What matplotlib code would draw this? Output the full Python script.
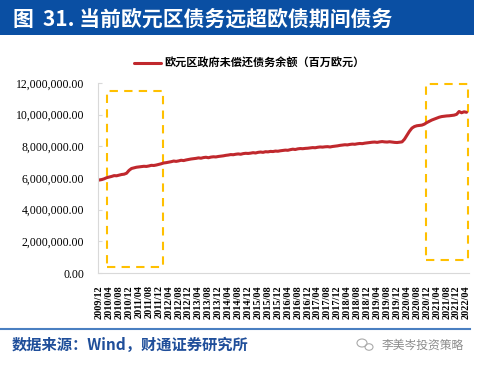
import numpy as np
import matplotlib.pyplot as plt
from matplotlib.patches import Rectangle, Ellipse

plt.rcParams['font.family'] = ['Noto Sans CJK SC', 'DejaVu Sans']

# monthly months from 2009/12 to 2022/04
months = ['2009/12'] + [f'{y}/{m:02d}' for y in range(2010, 2022) for m in range(1, 13)] \
    + ['2022/01', '2022/02', '2022/03', '2022/04']

# outstanding government debt, trillions of euro (x1e6 = 百万欧元)
debt = [5.87,
        5.90, 5.95, 6.02, 6.06, 6.10, 6.15, 6.14, 6.18, 6.22, 6.24, 6.30, 6.48,
        6.60, 6.64, 6.68, 6.70, 6.72, 6.74, 6.73, 6.76, 6.80, 6.79, 6.82, 6.86,
        6.90, 6.95, 6.97, 7.00, 7.03, 7.07, 7.05, 7.08, 7.12, 7.10, 7.14, 7.17,
        7.20, 7.22, 7.24, 7.27, 7.25, 7.29, 7.31, 7.28, 7.32, 7.34, 7.33, 7.36,
        7.38, 7.40, 7.43, 7.45, 7.48, 7.47, 7.50, 7.52, 7.50, 7.54, 7.56, 7.55,
        7.57, 7.60, 7.58, 7.62, 7.64, 7.62, 7.66, 7.65, 7.68, 7.67, 7.70, 7.69,
        7.72, 7.74, 7.76, 7.75, 7.79, 7.82, 7.80, 7.84, 7.86, 7.85, 7.87, 7.88,
        7.90, 7.92, 7.91, 7.94, 7.96, 7.95, 7.97, 7.98, 7.96, 7.99, 8.01, 8.03,
        8.06, 8.08, 8.10, 8.09, 8.12, 8.14, 8.13, 8.16, 8.18, 8.17, 8.20, 8.22,
        8.24, 8.26, 8.27, 8.25, 8.28, 8.30, 8.28, 8.27, 8.29, 8.27, 8.25, 8.24,
        8.26, 8.28, 8.45, 8.70, 8.95, 9.15, 9.25, 9.30, 9.32, 9.34, 9.40, 9.50,
        9.58, 9.66, 9.72, 9.78, 9.84, 9.88, 9.90, 9.92, 9.93, 9.95, 9.97, 10.02,
        10.20, 10.12, 10.18, 10.15]

yticks = [0, 2e6, 4e6, 6e6, 8e6, 10e6, 12e6]
# highlighted periods (month index range, value range)
box1 = (3.1, 25.7, 0.38e6, 11.5e6)
box2 = (131.7, 148.7, 0.82e6, 11.94e6)

W, H = 480, 367
fig = plt.figure(figsize=(W / 100, H / 100), dpi=100)

# title bar
fig.patches.append(Rectangle((0, 1 - 35 / H), 474 / W, 35 / H, transform=fig.transFigure,
                             facecolor='#0A4FA3', edgecolor='none'))
fig.text(12 / W, 1 - 19 / H, '图', color='white',
         fontsize=15, fontweight='bold', va='center', ha='left')
fig.text(43 / W, 1 - 19 / H, '31. 当前欧元区债务远超欧债期间债务', color='white',
         fontsize=15, fontweight='bold', va='center', ha='left')

ax = fig.add_axes([98 / W, (H - 273) / H, (469 - 98) / W, 190 / H])
x = np.arange(len(months))
values = np.array(debt) * 1e6
ax.plot(x, values, color='#C0282D', lw=2.2, solid_capstyle='round',
        label='欧元区政府未偿还债务余额（百万欧元）')

ax.set_xlim(-0.5, 149)
ax.set_ylim(0, 12e6)
ax.set_yticks(yticks)
ax.set_yticklabels([f'{v:,.2f}' for v in yticks], fontfamily='Liberation Serif', fontsize=8.5)
ax.set_xticks(x[::4])
ax.set_xticklabels(months[::4], rotation=90, fontfamily='Liberation Serif', fontsize=7.4,
                   fontweight='bold')
ax.tick_params(axis='x', length=0, pad=9)
ax.tick_params(axis='y', length=3, direction='in', color='#D9D9D9', pad=10)
for s in ['top', 'right']:
    ax.spines[s].set_visible(False)
for s in ['left', 'bottom']:
    ax.spines[s].set_color('#D9D9D9')

for x0, x1, y0, y1 in [box1, box2]:
    ax.add_patch(Rectangle((x0, y0), x1 - x0, y1 - y0, fill=False, edgecolor='#FFC000',
                           lw=1.5, ls=(0, (4, 3)), clip_on=False))

leg = ax.legend(loc='lower left', bbox_to_anchor=(130 / W, 1 - 74 / H), bbox_transform=fig.transFigure,
                frameon=False, prop={'size': 8, 'weight': 'bold'}, handlelength=2.4,
                handletextpad=0.3, borderaxespad=0)

# footer
fig.add_artist(plt.Line2D([0, 470 / W], [1 - 329 / H] * 2, transform=fig.transFigure,
                          color='#4A7FC1', lw=1.5))
fig.text(12 / W, 1 - 345 / H, '数据来源：Wind，财通证券研究所', color='#1F4E9A',
         fontsize=11, fontweight='bold', va='center', ha='left')
fig.text(382 / W, 1 - 345 / H, '李美岑投资策略', color='#8C8C8C', fontsize=8.5,
         va='center', ha='left')
fig.patches.append(Ellipse((362 / W, 1 - 343 / H), 10 / W, 8 / H, transform=fig.transFigure,
                           fill=False, edgecolor='#AAAAAA', lw=0.8))
fig.patches.append(Ellipse((369 / W, 1 - 347 / H), 8 / W, 6.5 / H, transform=fig.transFigure,
                           fill=False, edgecolor='#AAAAAA', lw=0.8))

fig.savefig('out.png', dpi=100, facecolor='white')
